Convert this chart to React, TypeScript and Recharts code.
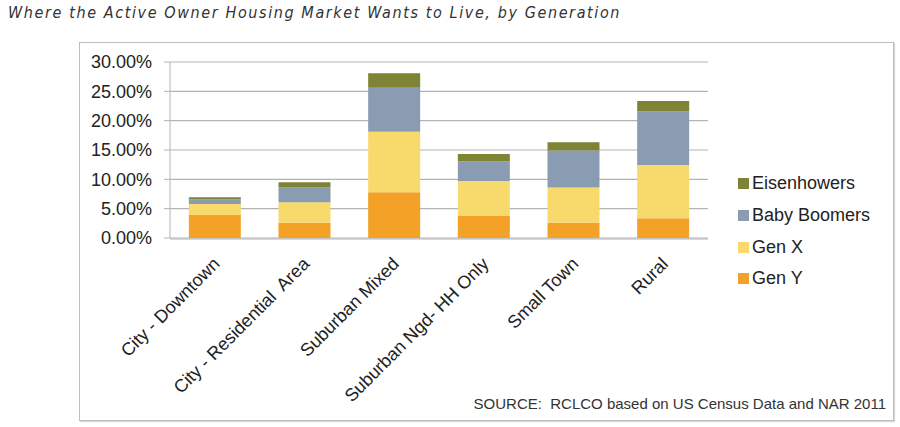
import React from 'react';
import { BarChart, Bar, XAxis, YAxis, CartesianGrid } from 'recharts';

// Where the Active Owner Housing Market Wants to Live, by Generation (RCLCO)
const categories = [
  'City - Downtown',
  'City - Residential  Area',
  'Suburban Mixed',
  'Suburban Ngd- HH Only',
  'Small Town',
  'Rural',
];
const genY = [3.9, 2.6, 7.8, 3.75, 2.6, 3.35];
const genX = [1.9, 3.5, 10.3, 5.95, 6.0, 9.1];
const babyBoomers = [0.8, 2.5, 7.5, 3.4, 6.3, 9.1];
const eisenhowers = [0.35, 0.9, 2.5, 1.2, 1.4, 1.8];
const yTicks = [0, 5, 10, 15, 20, 25, 30];

const series = [
  { key: 'genY', name: 'Gen Y', color: '#F3A227' },
  { key: 'genX', name: 'Gen X', color: '#F7D96C' },
  { key: 'babyBoomers', name: 'Baby Boomers', color: '#8A9CB2' },
  { key: 'eisenhowers', name: 'Eisenhowers', color: '#7E8336' },
];

const data = categories.map((name, i) => ({
  name,
  genY: genY[i],
  genX: genX[i],
  babyBoomers: babyBoomers[i],
  eisenhowers: eisenhowers[i],
}));

// category boundaries for the tick marks under the x axis
const edgeTicks = [...categories.map((_, i) => i), categories.length];

const FONT = '"Liberation Sans", Arial, sans-serif';
const GRID = '#b3b3b3';

function CategoryTick(props: any) {
  const { x, y, payload } = props;
  const ax = x + 6;
  const ay = y + 27;
  return (
    <text
      x={ax}
      y={ay}
      transform={`rotate(-45, ${ax}, ${ay})`}
      textAnchor="end"
      fontSize={18}
      fontFamily={FONT}
      fill="#222"
      style={{ whiteSpace: 'pre' }}
    >
      {payload.value}
    </text>
  );
}

export default function App() {
  return (
    <div style={{ position: 'absolute', left: 0, top: 0, width: 900, height: 427, background: '#fff' }}>
      <div
        style={{
          position: 'absolute',
          left: 8,
          top: 3,
          fontFamily: '"Liberation Sans Narrow", "DejaVu Sans Condensed", sans-serif',
          fontStyle: 'italic',
          fontSize: 16,
          letterSpacing: 1.6,
          color: '#333',
          whiteSpace: 'nowrap',
        }}
      >
        Where the Active Owner Housing Market Wants to Live, by Generation
      </div>
      <div
        style={{
          position: 'absolute',
          left: 79,
          top: 42,
          width: 813,
          height: 377,
          border: '1px solid #bdbdbd',
          boxShadow: '1px 1px 1px #d8d8d8',
        }}
      />
      <div style={{ position: 'absolute', left: 0, top: 0 }}>
        <BarChart
          width={900}
          height={427}
          data={data}
          margin={{ top: 62, right: 192, left: 90, bottom: 187 }}
          barCategoryGap="21%"
        >
          <CartesianGrid vertical={false} stroke={GRID} strokeWidth={1.2} />
          <YAxis
            width={80}
            domain={[0, 30]}
            ticks={yTicks}
            interval={0}
            tickFormatter={(v: number) => `${v.toFixed(2)}%`}
            axisLine={{ stroke: GRID }}
            tickLine={{ stroke: GRID }}
            tickSize={6}
            tickMargin={12}
            tick={{ fontSize: 18, fontFamily: FONT, fill: '#222' }}
          />
          <XAxis
            dataKey="name"
            height={1}
            interval={0}
            axisLine={false}
            tickLine={false}
            tickSize={0}
            tickMargin={0}
            tick={<CategoryTick />}
          />
          <XAxis
            xAxisId="edge"
            type="number"
            domain={[0, categories.length]}
            allowDataOverflow
            ticks={edgeTicks}
            interval={0}
            height={1}
            tick={false}
            tickSize={5}
            axisLine={{ stroke: GRID, strokeWidth: 1.2 }}
            tickLine={{ stroke: GRID }}
          />
          {series.map((s) => (
            <Bar
              key={s.key}
              dataKey={s.key}
              name={s.name}
              stackId="a"
              fill={s.color}
              isAnimationActive={false}
            />
          ))}
        </BarChart>
      </div>
      <div
        style={{
          position: 'absolute',
          left: 738,
          top: 168,
          fontFamily: FONT,
          fontSize: 18,
          color: '#222',
        }}
      >
        {[...series].reverse().map((s) => (
          <div key={s.key} style={{ display: 'flex', alignItems: 'center', height: 31.7 }}>
            <span style={{ width: 11, height: 11, background: s.color, marginRight: 3, display: 'inline-block' }} />
            <span>{s.name}</span>
          </div>
        ))}
      </div>
      <div
        style={{
          position: 'absolute',
          right: 14,
          top: 395,
          fontFamily: FONT,
          fontSize: 15,
          color: '#333',
          whiteSpace: 'pre',
        }}
      >
        SOURCE:  RCLCO based on US Census Data and NAR 2011
      </div>
    </div>
  );
}
